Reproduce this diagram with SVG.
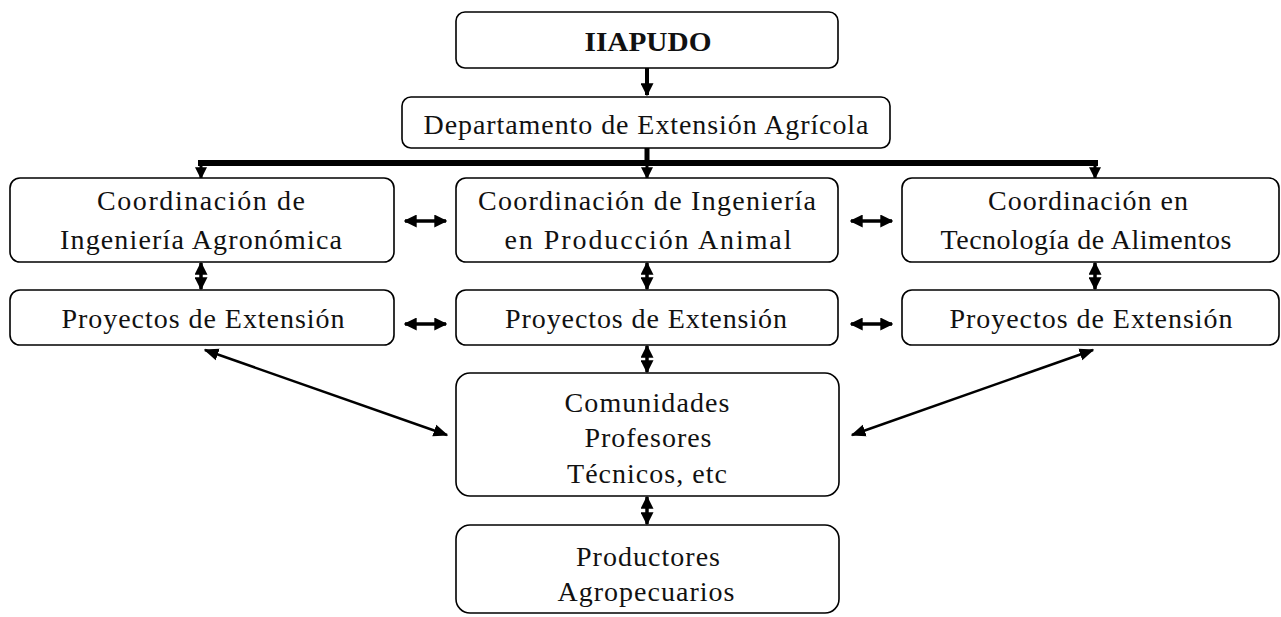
<svg xmlns="http://www.w3.org/2000/svg" width="1281" height="617" viewBox="0 0 1281 617">
<style>
.box{fill:#fff;stroke:#000;stroke-width:1.6}
.t{font-family:"Liberation Serif","Times New Roman",serif;font-size:28px;fill:#111;text-anchor:middle}
.b{font-weight:bold;font-size:27px}
.c{stroke:#000;fill:none}
</style>
<defs>
<marker id="ah" viewBox="0 0 10 10" refX="9" refY="5" markerWidth="13" markerHeight="13" markerUnits="userSpaceOnUse" orient="auto-start-reverse"><path d="M0,0 L10,5 L0,10 z" fill="#000"/></marker>
<marker id="ahs" viewBox="0 0 10 10" refX="9" refY="5" markerWidth="12" markerHeight="12" markerUnits="userSpaceOnUse" orient="auto-start-reverse"><path d="M0,0 L10,5 L0,10 z" fill="#000"/></marker>
<marker id="ahd" viewBox="0 0 10 10" refX="9" refY="5" markerWidth="15" markerHeight="15" markerUnits="userSpaceOnUse" orient="auto-start-reverse"><path d="M0,1 L10,5 L0,9 z" fill="#000"/></marker>
</defs>
<rect width="1281" height="617" fill="#fff"/>
<g id="connectors">
<line class="c" x1="647" y1="68" x2="647" y2="95" stroke-width="4" marker-end="url(#ah)"/>
<line class="c" x1="647" y1="148" x2="647" y2="163" stroke-width="5"/>
<line class="c" x1="198" y1="163" x2="1098" y2="163" stroke-width="6"/>
<line class="c" x1="201" y1="163" x2="201" y2="178" stroke-width="3" marker-end="url(#ahs)"/>
<line class="c" x1="647" y1="163" x2="647" y2="178" stroke-width="3" marker-end="url(#ahs)"/>
<line class="c" x1="1095" y1="163" x2="1095" y2="178" stroke-width="3" marker-end="url(#ahs)"/>
<line class="c" x1="405" y1="221" x2="446" y2="221" stroke-width="3.5" marker-start="url(#ah)" marker-end="url(#ah)"/>
<line class="c" x1="851" y1="221" x2="892" y2="221" stroke-width="3.5" marker-start="url(#ah)" marker-end="url(#ah)"/>
<line class="c" x1="405" y1="324" x2="446" y2="324" stroke-width="3.5" marker-start="url(#ah)" marker-end="url(#ah)"/>
<line class="c" x1="851" y1="324" x2="892" y2="324" stroke-width="3.5" marker-start="url(#ah)" marker-end="url(#ah)"/>
<line class="c" x1="201" y1="263" x2="201" y2="289" stroke-width="3.5" marker-start="url(#ah)" marker-end="url(#ah)"/>
<line class="c" x1="647" y1="263" x2="647" y2="289" stroke-width="3.5" marker-start="url(#ah)" marker-end="url(#ah)"/>
<line class="c" x1="1095" y1="263" x2="1095" y2="289" stroke-width="3.5" marker-start="url(#ah)" marker-end="url(#ah)"/>
<line class="c" x1="647" y1="346" x2="647" y2="372" stroke-width="3.5" marker-start="url(#ah)" marker-end="url(#ah)"/>
<line class="c" x1="647" y1="497" x2="647" y2="524" stroke-width="3.5" marker-start="url(#ah)" marker-end="url(#ah)"/>
<line class="c" x1="205" y1="350" x2="447" y2="435" stroke-width="2.5" marker-start="url(#ahd)" marker-end="url(#ahd)"/>
<line class="c" x1="1093" y1="350" x2="852" y2="435" stroke-width="2.5" marker-start="url(#ahd)" marker-end="url(#ahd)"/>
</g>
<g id="iiapudo">
<rect class="box" x="456" y="12" width="382" height="56" rx="9"/>
<text class="t b" x="648" y="51" textLength="127" lengthAdjust="spacingAndGlyphs">IIAPUDO</text>
</g>
<g id="departamento">
<rect class="box" x="402" y="97" width="488" height="51" rx="9"/>
<text class="t" x="646" y="134" textLength="445" lengthAdjust="spacing">Departamento de Extensión Agrícola</text>
</g>
<g id="coord-agro">
<rect class="box" x="10" y="178" width="384" height="84" rx="10"/>
<text class="t" x="201" y="210" textLength="208" lengthAdjust="spacing">Coordinación de</text>
<text class="t" x="201" y="249" textLength="282" lengthAdjust="spacing">Ingeniería Agronómica</text>
</g>
<g id="coord-animal">
<rect class="box" x="456" y="178" width="382" height="84" rx="10"/>
<text class="t" x="647" y="210" textLength="338" lengthAdjust="spacing">Coordinación de Ingeniería</text>
<text class="t" x="648" y="249" textLength="287" lengthAdjust="spacing">en Producción Animal</text>
</g>
<g id="coord-alimentos">
<rect class="box" x="902" y="178" width="377" height="84" rx="10"/>
<text class="t" x="1088" y="210" textLength="200" lengthAdjust="spacing">Coordinación en</text>
<text class="t" x="1086" y="249" textLength="291" lengthAdjust="spacing">Tecnología de Alimentos</text>
</g>
<g id="proy-1">
<rect class="box" x="10" y="290" width="384" height="55" rx="10"/>
<text class="t" x="203" y="328" textLength="283" lengthAdjust="spacing">Proyectos de Extensión</text>
</g>
<g id="proy-2">
<rect class="box" x="456" y="290" width="382" height="55" rx="10"/>
<text class="t" x="646" y="328" textLength="282" lengthAdjust="spacing">Proyectos de Extensión</text>
</g>
<g id="proy-3">
<rect class="box" x="902" y="290" width="377" height="55" rx="10"/>
<text class="t" x="1091" y="328" textLength="283" lengthAdjust="spacing">Proyectos de Extensión</text>
</g>
<g id="comunidades">
<rect class="box" x="456" y="373" width="383" height="123" rx="14"/>
<text class="t" x="647" y="412" textLength="165" lengthAdjust="spacing">Comunidades</text>
<text class="t" x="648" y="447" textLength="127" lengthAdjust="spacing">Profesores</text>
<text class="t" x="647" y="483" textLength="160" lengthAdjust="spacing">Técnicos, etc</text>
</g>
<g id="productores">
<rect class="box" x="456" y="525" width="383" height="88" rx="14"/>
<text class="t" x="648" y="566" textLength="144" lengthAdjust="spacing">Productores</text>
<text class="t" x="646" y="601" textLength="177" lengthAdjust="spacing">Agropecuarios</text>
</g>
</svg>
